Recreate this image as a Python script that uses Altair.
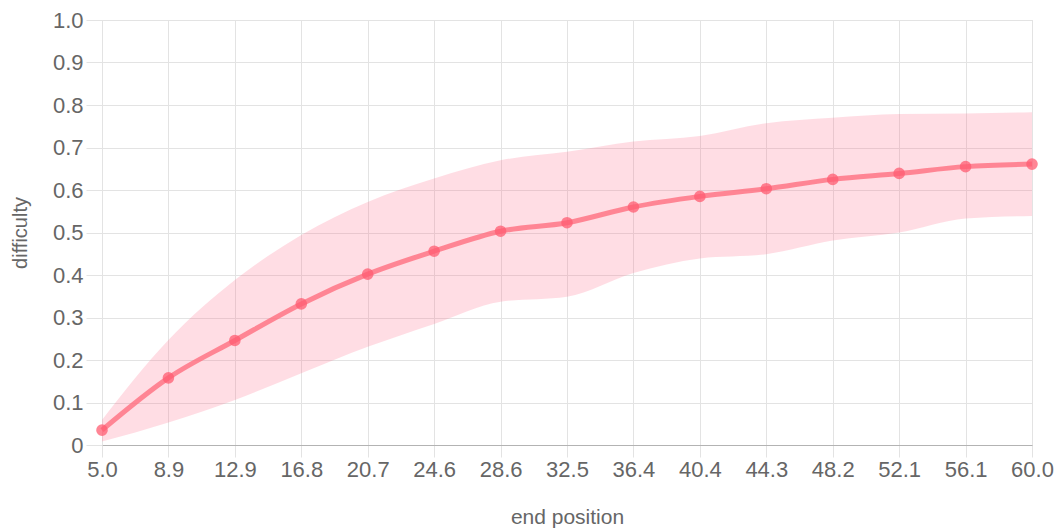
import altair as alt
import pandas as pd

# End positions (tick labels on the x axis)
positions = ["5.0", "8.9", "12.9", "16.8", "20.7", "24.6", "28.6", "32.5",
             "36.4", "40.4", "44.3", "48.2", "52.1", "56.1", "60.0"]
# Mean difficulty per end position
mean_difficulty = [0.035, 0.158, 0.246, 0.332, 0.402, 0.456, 0.503, 0.523,
                   0.560, 0.585, 0.603, 0.625, 0.639, 0.655, 0.661]
# Upper and lower edge of the spread band
upper_band = [0.059, 0.247, 0.388, 0.494, 0.572, 0.627, 0.670, 0.690,
              0.714, 0.727, 0.757, 0.770, 0.779, 0.780, 0.783]
lower_band = [0.008, 0.053, 0.106, 0.169, 0.231, 0.285, 0.337, 0.349,
              0.405, 0.439, 0.449, 0.481, 0.500, 0.533, 0.539]

df = pd.DataFrame({
    "pos": positions,
    "mean": mean_difficulty,
    "upper": upper_band,
    "lower": lower_band,
})

RED = "#ff6384"
FONT = "Liberation Sans"
GRID = "#e3e3e3"
TEXT = "#666666"

x = alt.X(
    "pos:O",
    sort=positions,
    scale=alt.Scale(type="point", padding=0),
    axis=alt.Axis(
        title="end position",
        labelAngle=0,
        labelFontSize=22,
        labelColor=TEXT,
        labelFont=FONT,
        labelPadding=2,
        tickSize=12,
        tickColor=GRID,
        grid=True,
        gridColor=GRID,
        domainColor="#b3b3b3",
        titleFont=FONT,
        titleFontSize=21,
        titleFontWeight="normal",
        titleColor=TEXT,
        titlePadding=26,
    ),
)

y_axis = alt.Axis(
    title="difficulty",
    values=[0, 0.1, 0.2, 0.3, 0.4, 0.5, 0.6, 0.7, 0.8, 0.9, 1.0],
    labelExpr="datum.value == 0 ? '0' : format(datum.value, '.1f')",
    labelFontSize=22,
    labelColor=TEXT,
    labelFont=FONT,
    labelPadding=3,
    tickSize=16,
    tickColor=GRID,
    grid=True,
    gridColor=GRID,
    domain=False,
    titleFont=FONT,
    titleFontSize=20,
    titleFontWeight="normal",
    titleColor=TEXT,
    titlePadding=22,
)

band = alt.Chart(df).mark_area(
    color=RED, opacity=0.22, interpolate="monotone"
).encode(
    x=x,
    y=alt.Y("lower:Q", scale=alt.Scale(domain=[0, 1]), axis=y_axis),
    y2="upper:Q",
)

line = alt.Chart(df).mark_line(
    color="#ff6f80", opacity=0.8, strokeWidth=5, interpolate="monotone"
).encode(x=x, y="mean:Q")

points = alt.Chart(df).mark_circle(
    color="#ff5c72", opacity=0.75, size=135
).encode(x=x, y="mean:Q")

chart = alt.layer(band, line, points).properties(
    width=930,
    height=425,
    autosize=alt.AutoSizeParams(type="none"),
    padding={"left": 102, "top": 20, "right": 25, "bottom": 85},
).configure_view(stroke=None).configure(background="white")

chart.save("out.html", embed_options={"renderer": "svg", "actions": False})
